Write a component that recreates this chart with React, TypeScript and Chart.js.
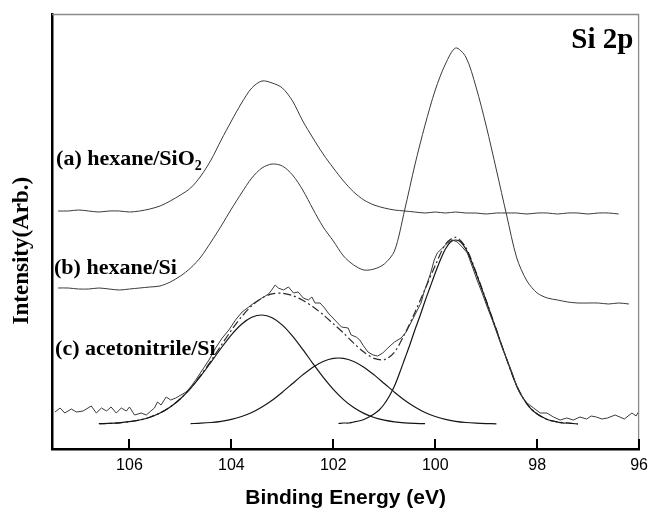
import React, { useEffect, useRef } from "react";
import { Chart, registerables } from "chart.js";

Chart.register(...registerables);

// ---------- axes ----------
const xTicks = [106, 104, 102, 100, 98, 96];
const xMin = 96;
const xMax = 107.52;
const yMin = 0;
const yMax = 435;

// ---------- (a) hexane/SiO2 ----------
const aEnergy = [
  107.4, 107.2, 107.0, 106.8, 106.6, 106.4, 106.2, 106.0, 105.8, 105.6,
  105.4, 105.2, 105.0, 104.8, 104.6, 104.4, 104.2, 104.0, 103.8, 103.6,
  103.4, 103.2, 103.0, 102.8, 102.6, 102.4, 102.2, 102.0, 101.8, 101.6,
  101.4, 101.2, 101.0, 100.8, 100.6, 100.4, 100.2, 100.0, 99.8, 99.6,
  99.4, 99.2, 99.0, 98.8, 98.6, 98.4, 98.2, 98.0, 97.8, 97.6,
  97.4, 97.2, 97.0, 96.8, 96.6, 96.4,
];
const aIntensity = [
  238, 238, 239, 238, 237, 238, 238, 237, 238, 240,
  243, 248, 254, 261, 273, 289, 309, 328, 346, 361,
  368, 366, 361, 348, 328, 311, 295, 281, 268, 257,
  249, 244, 241, 239, 238, 237, 236, 237, 236, 237,
  236, 236, 235, 236, 236, 236, 235, 236, 236, 235,
  236, 236, 235, 236, 236, 235,
];

// ---------- (b) hexane/Si ----------
const bEnergy = [
  107.4, 107.2, 107.0, 106.8, 106.6, 106.4, 106.2, 106.0, 105.8, 105.6,
  105.4, 105.2, 105.0, 104.8, 104.6, 104.4, 104.2, 104.0, 103.8, 103.6,
  103.4, 103.2, 103.0, 102.8, 102.6, 102.4, 102.2, 102.0, 101.8, 101.6,
  101.4, 101.2, 101.0, 100.8, 100.6, 100.4, 100.2, 100.0, 99.8, 99.6,
  99.4, 99.2, 99.0, 98.8, 98.6, 98.4, 98.2, 98.0, 97.8, 97.6,
  97.4, 97.2, 97.0, 96.8, 96.6, 96.4, 96.2,
];
const bIntensity = [
  161, 161, 160, 160, 161, 160, 159, 160, 161, 162,
  163, 167, 173, 181, 192, 207, 223, 240, 256, 271,
  281, 285, 283, 274, 259, 240, 222, 208, 193, 184,
  179, 180, 185, 198, 239, 284, 324, 359, 385, 401,
  392, 362, 323, 279, 234, 191, 168, 156, 151, 149,
  147, 146, 146, 146, 145, 146, 145,
];

// ---------- (c) acetonitrile/Si : raw data ----------
const cEnergy = [
  107.46, 107.36, 107.27, 107.14, 107.04, 106.91, 106.75, 106.65, 106.55, 106.45,
  106.36, 106.26, 106.16, 106.06, 106.0, 105.9, 105.77, 105.67, 105.58, 105.51,
  105.45, 105.38, 105.28, 105.19, 105.09, 104.99, 104.89, 104.8, 104.7, 104.57,
  104.44, 104.31, 104.18, 104.05, 103.92, 103.79, 103.66, 103.53, 103.4, 103.27,
  103.21, 103.14, 103.08, 102.98, 102.88, 102.78, 102.69, 102.59, 102.49, 102.42,
  102.36, 102.26, 102.17, 102.1, 101.97, 101.84, 101.71, 101.65, 101.55, 101.48,
  101.42, 101.32, 101.22, 101.13, 101.03, 100.93, 100.8, 100.67, 100.57, 100.48,
  100.38, 100.28, 100.22, 100.15, 100.09, 100.02, 99.96, 99.86, 99.76, 99.66,
  99.57, 99.47, 99.37, 99.27, 99.18, 99.08, 98.98, 98.88, 98.79, 98.69,
  98.59, 98.49, 98.4, 98.32, 98.2, 98.07, 97.94, 97.81, 97.68, 97.55,
  97.42, 97.29, 97.16, 97.03, 96.94, 96.84, 96.73, 96.62, 96.47, 96.29,
  96.14, 96.06, 96.0,
];
const cIntensity = [
  37, 41, 36, 40, 37, 38, 43, 36, 41, 38,
  42, 36, 41, 38, 42, 34, 36, 34, 38, 41,
  47, 44, 52, 49, 51, 54, 57, 62, 69, 79,
  89, 101, 111, 119, 129, 137, 142, 147, 151, 155,
  159, 164, 161, 159, 162, 156, 157, 151, 149, 152,
  146, 146, 141, 136, 129, 122, 121, 114, 112, 109,
  104, 97, 94, 93, 96, 101, 107, 111, 117, 126,
  136, 146, 157, 167, 176, 189, 196, 201, 206, 209,
  207, 202, 196, 182, 169, 156, 142, 129, 116, 102,
  89, 76, 62, 54, 46, 41, 36, 36, 32, 29,
  31, 29, 32, 30, 33, 32, 30, 31, 34, 30,
  36, 33, 38,
];

// ---------- (c) fitted components ----------
const comp1Energy = [
  106.6, 106.4, 106.2, 106.0, 105.8, 105.6, 105.4, 105.2, 105.0, 104.8,
  104.6, 104.4, 104.2, 104.0, 103.8, 103.6, 103.4, 103.2, 103.0, 102.8,
  102.6, 102.4, 102.2, 102.0, 101.8, 101.6, 101.4, 101.2, 101.0, 100.8,
  100.6, 100.4, 100.2,
];
const comp1Intensity = [
  25.3, 25.6, 26.2, 27.3, 29.0, 31.8, 36.0, 42.1, 50.3, 60.7,
  73.1, 86.8, 101.0, 114.2, 124.8, 131.7, 134.0, 131.3, 123.9, 112.9,
  99.6, 85.4, 71.8, 59.6, 49.4, 41.4, 35.6, 31.5, 28.8, 27.1,
  26.1, 25.6, 25.3,
];

const comp2Energy = [
  104.8, 104.6, 104.4, 104.2, 104.0, 103.8, 103.6, 103.4, 103.2, 103.0,
  102.8, 102.6, 102.4, 102.2, 102.0, 101.8, 101.6, 101.4, 101.2, 101.0,
  100.8, 100.6, 100.4, 100.2, 100.0, 99.8, 99.6, 99.4, 99.2, 99.0,
  98.8,
];
const comp2Intensity = [
  25.4, 25.8, 26.5, 27.7, 29.6, 32.5, 36.5, 42.0, 48.8, 56.8,
  65.5, 74.1, 81.8, 87.5, 90.6, 90.6, 87.5, 81.8, 74.1, 65.5,
  56.8, 48.8, 42.0, 36.5, 32.5, 29.6, 27.7, 26.5, 25.8, 25.4,
  25.2,
];

const comp3Energy = [
  101.9, 101.8, 101.7, 101.6, 101.5, 101.4, 101.3, 101.2, 101.1, 101.0,
  100.9, 100.8, 100.7, 100.6, 100.5, 100.4, 100.3, 100.2, 100.1, 100.0,
  99.9, 99.8, 99.7, 99.6, 99.5, 99.4, 99.3, 99.2, 99.1, 99.0,
  98.9, 98.8, 98.7, 98.6, 98.5, 98.4, 98.3, 98.2, 98.1, 98.0,
  97.9, 97.8, 97.7, 97.6, 97.5, 97.4, 97.3, 97.2,
];
const comp3Intensity = [
  25.5, 26, 26, 27, 28, 29.5, 32, 35, 39, 45,
  53, 63, 76, 90, 104, 119, 133, 148, 162, 176,
  189, 200, 207, 209, 207, 200, 189, 176, 162, 148,
  133, 119, 104, 90, 76, 63, 53, 45, 39, 35,
  32, 29.5, 28, 27, 26, 26, 25.5, 25,
];

const envEnergy = [
  106.6, 106.4, 106.2, 106.0, 105.8, 105.6, 105.4, 105.2, 105.0, 104.8,
  104.6, 104.4, 104.2, 104.0, 103.8, 103.6, 103.4, 103.2, 103.0, 102.8,
  102.6, 102.4, 102.2, 102.0, 101.8, 101.6, 101.4, 101.2, 101.0, 100.8,
  100.6, 100.4, 100.2, 100.0, 99.8, 99.6, 99.4, 99.2, 99.0, 98.8,
  98.6, 98.4, 98.2, 98.0, 97.8, 97.6, 97.4, 97.2,
];
const envIntensity = [
  25.3, 25.6, 26.2, 27.3, 29.0, 31.8, 36.0, 42.1, 50.3, 61.1,
  73.9, 88.3, 103.7, 118.8, 132.3, 143.2, 151.0, 155.1, 155.7, 153.4,
  148.7, 142.2, 134.3, 125.2, 116.0, 105.9, 96.9, 90.6, 89.3, 96.9,
  114.9, 136.6, 159.8, 183.5, 204.6, 211.7, 201.5, 176.8, 148.4, 119.2,
  90.0, 63.0, 45.0, 35.0, 29.5, 27.0, 26.0, 25.0,
];

// ---------- text ----------
const xTitle = "Binding Energy (eV)";
const yTitle = "Intensity(Arb.)";
const labelTexts = ["(a) hexane/SiO", "(b) hexane/Si", "(c) acetonitrile/Si", "Si 2p"];
const labelSubs = ["2", "", "", ""];
const labelEnergy = [107.44, 107.48, 107.46, 97.33];
const labelIntensity = [284, 175, 94, 401];
const labelSize = [22, 22, 22, 29];

const toPoints = (e: number[], v: number[]) => e.map((x, i) => ({ x, y: v[i] }));

const decorPlugin = {
  id: "decor",
  afterDraw(chart: any) {
    const { ctx, chartArea: ca, scales } = chart;
    const xs = scales.x;
    const ys = scales.y;
    ctx.save();
    // thin top / right frame
    ctx.strokeStyle = "#8a8a8a";
    ctx.lineWidth = 1.3;
    ctx.beginPath();
    ctx.moveTo(ca.left, ca.top + 0.5);
    ctx.lineTo(ca.right - 0.5, ca.top + 0.5);
    ctx.lineTo(ca.right - 0.5, ca.bottom);
    ctx.stroke();
    // inward ticks
    ctx.strokeStyle = "#000";
    ctx.lineWidth = 2;
    xs.ticks.forEach((t: any) => {
      const px = Math.round(xs.getPixelForValue(t.value));
      ctx.beginPath();
      ctx.moveTo(px, ca.bottom);
      ctx.lineTo(px, ca.bottom - 10);
      ctx.stroke();
    });
    // y title
    ctx.fillStyle = "#000";
    ctx.font = 'bold 23px "Liberation Serif", "Times New Roman", serif';
    ctx.textAlign = "center";
    ctx.textBaseline = "alphabetic";
    ctx.save();
    ctx.translate(28, ca.top + (ca.bottom - ca.top) * 0.544);
    ctx.rotate(-Math.PI / 2);
    ctx.fillText(yTitle, 0, 0);
    ctx.restore();
    // labels
    ctx.textAlign = "left";
    labelTexts.forEach((txt, i) => {
      const px = xs.getPixelForValue(labelEnergy[i]);
      const py = ys.getPixelForValue(labelIntensity[i]);
      ctx.font = `bold ${labelSize[i]}px "Liberation Serif", "Times New Roman", serif`;
      ctx.fillText(txt, px, py);
      if (labelSubs[i]) {
        const w = ctx.measureText(txt).width;
        ctx.font = `bold ${Math.round(labelSize[i] * 0.62)}px "Liberation Serif", "Times New Roman", serif`;
        ctx.fillText(labelSubs[i], px + w, py + 5);
      }
    });
    ctx.restore();
  },
};

export default function App() {
  const ref = useRef<HTMLCanvasElement | null>(null);
  useEffect(() => {
    if (!ref.current) return;
    const dataLine = { borderColor: "#3a3a3a", borderWidth: 1, pointRadius: 0, fill: false };
    const fitLine = { borderColor: "#151515", borderWidth: 1.2, pointRadius: 0, fill: false, tension: 0.3 };
    const chart = new Chart(ref.current, {
      type: "line",
      data: {
        datasets: [
          { label: "(a) hexane/SiO2", data: toPoints(aEnergy, aIntensity), ...dataLine, tension: 0.3 },
          { label: "(b) hexane/Si", data: toPoints(bEnergy, bIntensity), ...dataLine, tension: 0.3 },
          { label: "(c) acetonitrile/Si", data: toPoints(cEnergy, cIntensity), ...dataLine, tension: 0 },
          { label: "component 1", data: toPoints(comp1Energy, comp1Intensity), ...fitLine },
          { label: "component 2", data: toPoints(comp2Energy, comp2Intensity), ...fitLine },
          { label: "component 3", data: toPoints(comp3Energy, comp3Intensity), ...fitLine },
          {
            label: "envelope",
            data: toPoints(envEnergy, envIntensity),
            ...fitLine,
            borderColor: "#2a2a2a",
            borderDash: [8, 3, 2, 3],
          },
        ],
      },
      options: {
        responsive: false,
        animation: false,
        devicePixelRatio: 1,
        layout: { padding: { left: 0, top: 14, right: 12, bottom: 0 } },
        plugins: { legend: { display: false }, tooltip: { enabled: false } },
        scales: {
          x: {
            type: "linear",
            reverse: true,
            min: xMin,
            max: xMax,
            afterBuildTicks: (s: any) => {
              s.ticks = xTicks.map((v) => ({ value: v }));
            },
            afterFit: (s: any) => {
              s.height = 63;
            },
            grid: { display: false, drawTicks: false },
            border: { display: true, color: "#000", width: 2.5 },
            ticks: {
              padding: 7,
              color: "#000",
              font: { family: '"Liberation Sans", Arial, sans-serif', size: 16 },
              callback: (v: any) => String(v),
            },
            title: {
              display: true,
              text: xTitle,
              color: "#000",
              font: { family: '"Liberation Sans", Arial, sans-serif', size: 21, weight: "bold" },
              padding: { top: 0, bottom: 1 },
            },
          },
          y: {
            type: "linear",
            min: yMin,
            max: yMax,
            afterFit: (s: any) => {
              s.width = 52;
            },
            grid: { display: false, drawTicks: false },
            border: { display: true, color: "#000", width: 2.5 },
            ticks: { display: false },
            title: { display: false },
          },
        },
      },
      plugins: [decorPlugin],
    } as any);
    return () => chart.destroy();
  }, []);
  return (
    <div style={{ position: "fixed", left: 0, top: 0, width: 655, height: 512, background: "#fff" }}>
      <canvas ref={ref} width={655} height={512} />
    </div>
  );
}
